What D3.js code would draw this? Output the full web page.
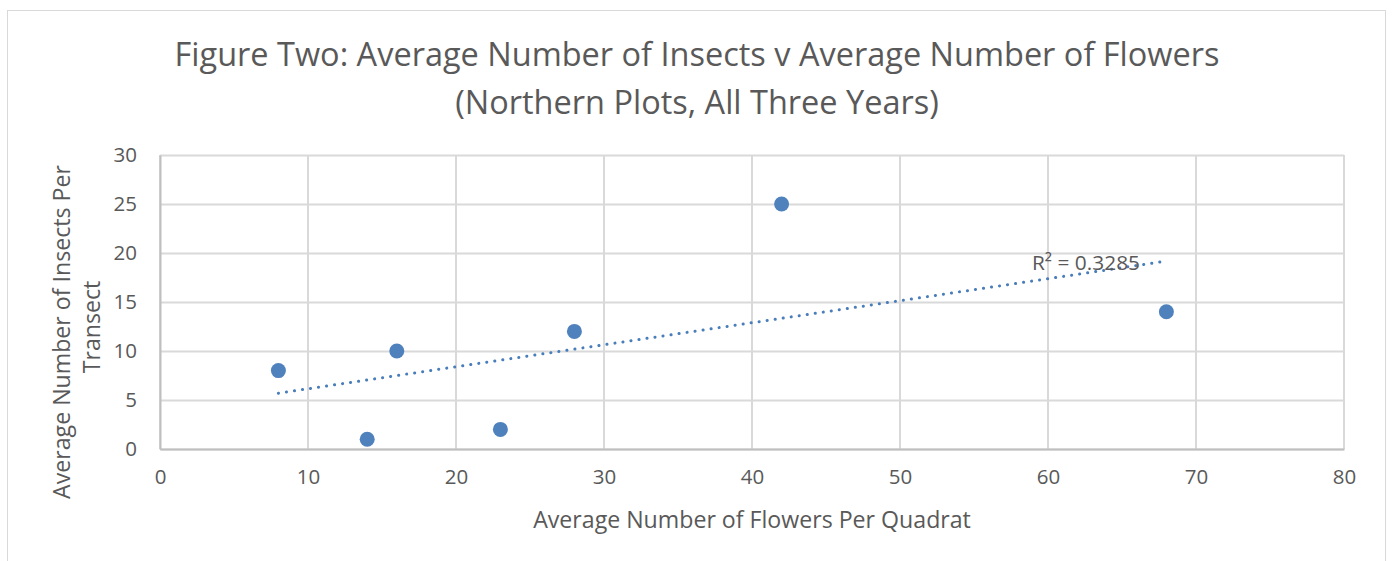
<!DOCTYPE html>
<html>
<head>
<meta charset="utf-8">
<script src="https://cdn.jsdelivr.net/npm/d3@7"></script>
<style>
  body { margin: 0; background: #fff; }
  text { font-family: "Open Sans", sans-serif; fill: #595959; }
</style>
</head>
<body>
<div id="canvas"></div>
<script>
// flowers per quadrat (x) vs insects per transect (y)
const flowers = [8, 14, 16, 23, 28, 42, 68]
const insects = [8, 1, 10, 2, 12, 25, 14]
const xTicks = [0, 10, 20, 30, 40, 50, 60, 70, 80]
const yTicks = [0, 5, 10, 15, 20, 25, 30]
const titleLines = ['Figure Two: Average Number of Insects v Average Number of Flowers',
                    '(Northern Plots, All Three Years)']

let width = 1397
let height = 561
const margin = {top: 155, left: 160, right: 53, bottom: 112}

const svg = d3.select('#canvas')
            .append('svg')
            .attr('width', width)
            .attr('height', height)

// shrink/grow a text node so it spans about w pixels
function fit(sel, w) {
    sel.each(function () {
        let fs = +this.getAttribute('font-size')
        let len = this.getComputedTextLength()
        d3.select(this).attr('font-size', (fs * w / len).toFixed(2))
    })
    return sel
}

// chart frame
svg.append('rect')
    .attr('x', 7.5).attr('y', 10.5)
    .attr('width', 1378).attr('height', 600)
    .attr('fill', 'white')
    .attr('stroke', '#d9d9d9')

let x = d3.scaleLinear().domain([0, 80]).range([margin.left, width - margin.right])
let y = d3.scaleLinear().domain([0, 30]).range([height - margin.bottom, margin.top])

// gridlines
svg.append('g').selectAll('line')
    .data(yTicks).enter().append('line')
    .attr('x1', x(0)).attr('x2', x(80))
    .attr('y1', d => Math.round(y(d)) + 0.5).attr('y2', d => Math.round(y(d)) + 0.5)
    .attr('stroke', '#d9d9d9').attr('stroke-width', 2)
svg.append('g').selectAll('line')
    .data(xTicks).enter().append('line')
    .attr('x1', d => Math.round(x(d))).attr('x2', d => Math.round(x(d)))
    .attr('y1', y(0)).attr('y2', y(30))
    .attr('stroke', '#d9d9d9').attr('stroke-width', 2)

// axes
let xAxis = svg.append('g')
    .attr('transform', `translate(0, ${y(0)})`)
    .call(d3.axisBottom(x).tickValues(xTicks).tickSize(0).tickPadding(20))
xAxis.select('.domain').attr('stroke', '#bfbfbf').attr('stroke-width', 2)
xAxis.selectAll('text').attr('font-size', 20.5).attr('fill', '#595959')
    .style('font-family', '"Open Sans", sans-serif')

let yAxis = svg.append('g')
    .attr('transform', `translate(${x(0)}, 0)`)
    .call(d3.axisLeft(y).tickValues(yTicks).tickSize(0).tickPadding(23))
yAxis.select('.domain').attr('stroke', '#bfbfbf').attr('stroke-width', 2)
yAxis.selectAll('text').attr('font-size', 20.5).attr('fill', '#595959')
    .style('font-family', '"Open Sans", sans-serif')

// trendline (least squares) + R²
let mx = d3.mean(flowers), my = d3.mean(insects)
let sxy = d3.sum(flowers, (v, i) => (v - mx) * (insects[i] - my))
let sxx = d3.sum(flowers, v => (v - mx) ** 2)
let syy = d3.sum(insects, v => (v - my) ** 2)
let slope = sxy / sxx
let icpt = my - slope * mx
let r2 = sxy * sxy / (sxx * syy)
let xr = d3.extent(flowers)

svg.append('line')
    .attr('x1', x(xr[0])).attr('y1', y(icpt + slope * xr[0]))
    .attr('x2', x(xr[1])).attr('y2', y(icpt + slope * xr[1]))
    .attr('stroke', '#4a7ebb')
    .attr('stroke-width', 3)
    .attr('stroke-linecap', 'round')
    .attr('stroke-dasharray', '0.1 8')

fit(svg.append('text')
    .text('R² = ' + r2.toFixed(4))
    .attr('x', 1086).attr('y', 270)
    .attr('text-anchor', 'middle')
    .attr('font-size', 18), 108)

// points
svg.append('g').selectAll('circle')
    .data(flowers).enter().append('circle')
    .attr('cx', d => x(d))
    .attr('cy', (d, i) => y(insects[i]))
    .attr('r', 7.5)
    .attr('fill', '#4f81bd')

// titles
let titles = svg.append('g').selectAll('text')
    .data(titleLines).enter().append('text')
    .text(d => d)
    .attr('x', 697)
    .attr('y', (d, i) => 66 + i * 48)
    .attr('text-anchor', 'middle')
    .attr('font-size', 30)
fit(titles.filter((d, i) => i == 0), 1045)
titles.filter((d, i) => i == 1).attr('font-size', titles.filter((d, i) => i == 0).attr('font-size'))

let xl = fit(svg.append('text')
    .text('Average Number of Flowers Per Quadrat')
    .attr('x', (x(0) + x(80)) / 2).attr('y', 528)
    .attr('text-anchor', 'middle')
    .attr('font-size', 20), 438)

svg.append('text')
    .text('Average Number of Insects Per')
    .attr('transform', 'translate(70, 332) rotate(-90)')
    .attr('text-anchor', 'middle')
    .attr('font-size', xl.attr('font-size'))
svg.append('text')
    .text('Transect')
    .attr('transform', 'translate(100, 327) rotate(-90)')
    .attr('text-anchor', 'middle')
    .attr('font-size', xl.attr('font-size'))
</script>
</body>
</html>
